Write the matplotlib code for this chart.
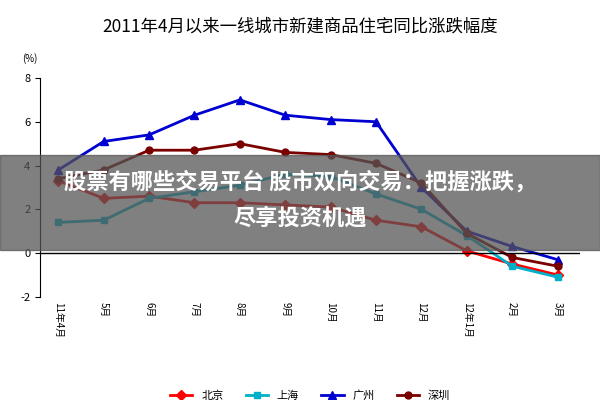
import matplotlib.pyplot as plt
import matplotlib.patches as mpatches

plt.rcParams['font.family'] = ['Noto Sans CJK SC', 'DejaVu Sans']
plt.rcParams['axes.unicode_minus'] = False

months = ['11年4月', '5月', '6月', '7月', '8月', '9月', '10月', '11月', '12月', '12年1月', '2月', '3月']
beijing = [3.3, 2.5, 2.6, 2.3, 2.3, 2.2, 2.1, 1.5, 1.2, 0.1, -0.5, -1.0]
shanghai = [1.4, 1.5, 2.5, 2.8, 3.1, 3.6, 3.5, 2.7, 2.0, 0.8, -0.6, -1.1]
guangzhou = [3.8, 5.1, 5.4, 6.3, 7.0, 6.3, 6.1, 6.0, 3.0, 1.0, 0.3, -0.3]
shenzhen = [3.4, 3.8, 4.7, 4.7, 5.0, 4.6, 4.5, 4.1, 3.2, 0.9, -0.2, -0.6]

fig = plt.figure(figsize=(6, 4), dpi=100)
ax = fig.add_axes([0.067, 0.258, 0.9, 0.547])
x = range(len(months))
ax.plot(x, beijing, color='#ff0000', marker='D', ms=5, lw=2, label='北京')
ax.plot(x, shanghai, color='#00b0c8', marker='s', ms=5, lw=2, label='上海')
ax.plot(x, guangzhou, color='#0000d0', marker='^', ms=6, lw=2, label='广州')
ax.plot(x, shenzhen, color='#7a0000', marker='o', ms=5, lw=2, label='深圳')

ax.set_ylim(-2, 8)
ax.set_xlim(-0.4, 11.5)
ax.set_yticks([-2, 0, 2, 4, 6, 8])
ax.set_xticks(list(x))
ax.set_xticklabels(months, rotation=-90, fontsize=7)
ax.tick_params(axis='y', labelsize=8)
for s in ['top', 'right', 'bottom']:
    ax.spines[s].set_visible(False)
ax.axhline(0, color='black', lw=1)
ax.tick_params(axis='x', length=0)
fig.text(0.037, 0.845, '(%)', fontsize=7)
fig.text(0.5, 0.92, '2011年4月以来一线城市新建商品住宅同比涨跌幅度', ha='center', fontsize=12.5)
ax.legend(loc='upper center', bbox_to_anchor=(0.5, -0.38), ncol=4, frameon=False, fontsize=8)

# 遮罩橫幅
fig.patches.append(mpatches.Rectangle((0, 0.375), 1, 0.237, transform=fig.transFigure,
                                      color='#555555', alpha=0.75, zorder=10))
fig.text(0.5, 0.545, '股票有哪些交易平台 股市双向交易：把握涨跌，', ha='center', va='center',
         color='white', fontsize=16, fontweight='bold', zorder=11)
fig.text(0.5, 0.455, '尽享投资机遇', ha='center', va='center',
         color='white', fontsize=16, fontweight='bold', zorder=11)

fig.savefig('out.png', dpi=100)
